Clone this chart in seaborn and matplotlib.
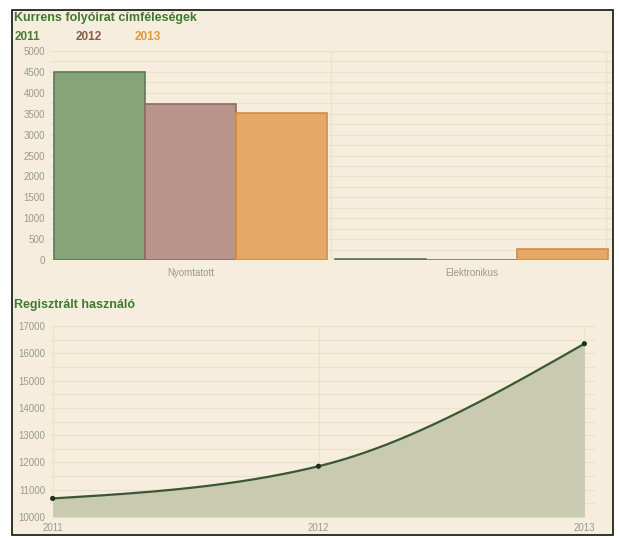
import numpy as np
import pandas as pd
import matplotlib
matplotlib.use("Agg")
import matplotlib.pyplot as plt
from matplotlib.patches import Rectangle
from matplotlib.ticker import MultipleLocator
import seaborn as sns

# ---- data ----
categories = ["Nyomtatott", "Elektronikus"]
years = ["2011", "2012", "2013"]
values_2011 = [4500, 20]
values_2012 = [3740, 10]
values_2013 = [3510, 270]

user_years = [2011, 2012, 2013]
user_values = [10680, 11860, 16350]

title_top = "Kurrens folyóirat címféleségek"
title_bottom = "Regisztrált használó"

# ---- styles ----
BG = "#f6eedc"
fills = {"2011": "#86a479", "2012": "#b8958a", "2013": "#e6a866"}
edges = {"2011": "#5d7b52", "2012": "#8f6b60", "2013": "#d38c44"}
legend_cols = {"2011": "#4d7a3a", "2012": "#8a5a4e", "2013": "#e8953a"}
TICK = "#9a9a90"
GRID = "#ece2cc"
TITLE = "#3f7a32"

sns.set_theme(style="white")
plt.rcParams["font.family"] = ["Liberation Sans", "DejaVu Sans"]

W, H = 619, 538
fig = plt.figure(figsize=(W / 100, H / 100), dpi=100)
fig.patch.set_facecolor("white")

# framed cream panel
fig.patches.append(Rectangle((12 / W, 1 - 535 / H), (613 - 12) / W, (535 - 10) / H,
                             transform=fig.transFigure, facecolor=BG,
                             edgecolor="#111111", linewidth=1.2, zorder=-10))

def frac(l, t, r, b):
    return [l / W, 1 - b / H, (r - l) / W, (b - t) / H]

# ---------- top bar chart ----------
df = pd.DataFrame({
    "cat": categories * 3,
    "year": [y for y in years for _ in categories],
    "val": values_2011 + values_2012 + values_2013,
})
ax1 = fig.add_axes(frac(50, 51, 612, 260))
ax1.set_zorder(2)
ax1.set_facecolor("none")
sns.barplot(data=df, x="cat", y="val", hue="year", order=categories,
            hue_order=years, palette=fills, width=0.975, saturation=1,
            ax=ax1, legend=False, zorder=3)
for cont, y in zip(ax1.containers, years):
    for bar in cont:
        bar.set_edgecolor(edges[y])
        bar.set_linewidth(1.2)
ax1.set_xlim(-0.5, 1.5)
ax1.set_ylim(0, 5000)
ax1.yaxis.set_major_locator(MultipleLocator(500))
ax1.yaxis.set_minor_locator(MultipleLocator(250))
ax1.grid(axis="y", which="both", color=GRID, linewidth=0.9, zorder=0)
ax1.axvline(0.5, color=GRID, linewidth=1.0, zorder=0)
ax1.axvline(1.48, color=GRID, linewidth=1.0, zorder=0)
for s in ax1.spines.values():
    s.set_visible(False)
ax1.tick_params(axis="both", which="both", length=0, colors=TICK, labelsize=7)
ax1.tick_params(axis="x", pad=6)
ax1.set_xlabel("")
ax1.set_ylabel("")

fig.text(14 / W, 1 - 18 / H, title_top, color=TITLE, fontsize=9,
         fontweight="bold", va="center", ha="left")
for y, xp in zip(years, [15, 76, 135]):
    fig.text(xp / W, 1 - 37 / H, y, color=legend_cols[y], fontsize=8.5,
             fontweight="bold", va="center", ha="left")

# ---------- bottom area/line chart ----------
def monotone(xs, ys, n=200):
    xs = np.asarray(xs, float); ys = np.asarray(ys, float)
    h = np.diff(xs); s = np.diff(ys) / h
    t = np.zeros_like(ys)
    for i in range(1, len(xs) - 1):
        p = (s[i - 1] * h[i] + s[i] * h[i - 1]) / (h[i - 1] + h[i])
        t[i] = (np.sign(s[i - 1]) + np.sign(s[i])) * min(abs(s[i - 1]), abs(s[i]), 0.5 * abs(p))
    t[0] = (3 * s[0] - t[1]) / 2
    t[-1] = (3 * s[-1] - t[-2]) / 2
    X, Y = [], []
    for i in range(len(xs) - 1):
        u = np.linspace(0, 1, n)
        h00 = 2 * u**3 - 3 * u**2 + 1; h10 = u**3 - 2 * u**2 + u
        h01 = -2 * u**3 + 3 * u**2; h11 = u**3 - u**2
        X.append(xs[i] + u * h[i])
        Y.append(h00 * ys[i] + h10 * h[i] * t[i] + h01 * ys[i + 1] + h11 * h[i] * t[i + 1])
    return np.concatenate(X), np.concatenate(Y)

cx, cy = monotone(user_years, user_values)

ax2 = fig.add_axes(frac(50, 326, 595, 517))
ax2.set_zorder(2)
ax2.set_facecolor("none")
ax2.fill_between(cx, 10000, cy, color="#c9cbb0", zorder=2, linewidth=0)
sns.lineplot(x=cx, y=cy, color="#3c5634", linewidth=1.6, ax=ax2, zorder=3)
sns.scatterplot(x=user_years, y=user_values, color="#1e331c", s=14,
                edgecolor="none", ax=ax2, zorder=4)
ax2.set_xlim(2010.99, 2013.04)
ax2.set_ylim(10000, 17000)
ax2.set_xticks(user_years)
ax2.set_xticklabels([str(y) for y in user_years])
ax2.yaxis.set_major_locator(MultipleLocator(1000))
ax2.yaxis.set_minor_locator(MultipleLocator(500))
ax2.grid(axis="y", which="both", color=GRID, linewidth=0.9, zorder=0)
ax2.grid(axis="x", which="major", color=GRID, linewidth=1.0, zorder=0)
for s in ax2.spines.values():
    s.set_visible(False)
ax2.tick_params(axis="both", which="both", length=0, colors=TICK, labelsize=7)
ax2.tick_params(axis="x", pad=4)

fig.text(14 / W, 1 - 305 / H, title_bottom, color=TITLE, fontsize=9,
         fontweight="bold", va="center", ha="left")

fig.savefig("out.png", dpi=100, facecolor=fig.get_facecolor())
